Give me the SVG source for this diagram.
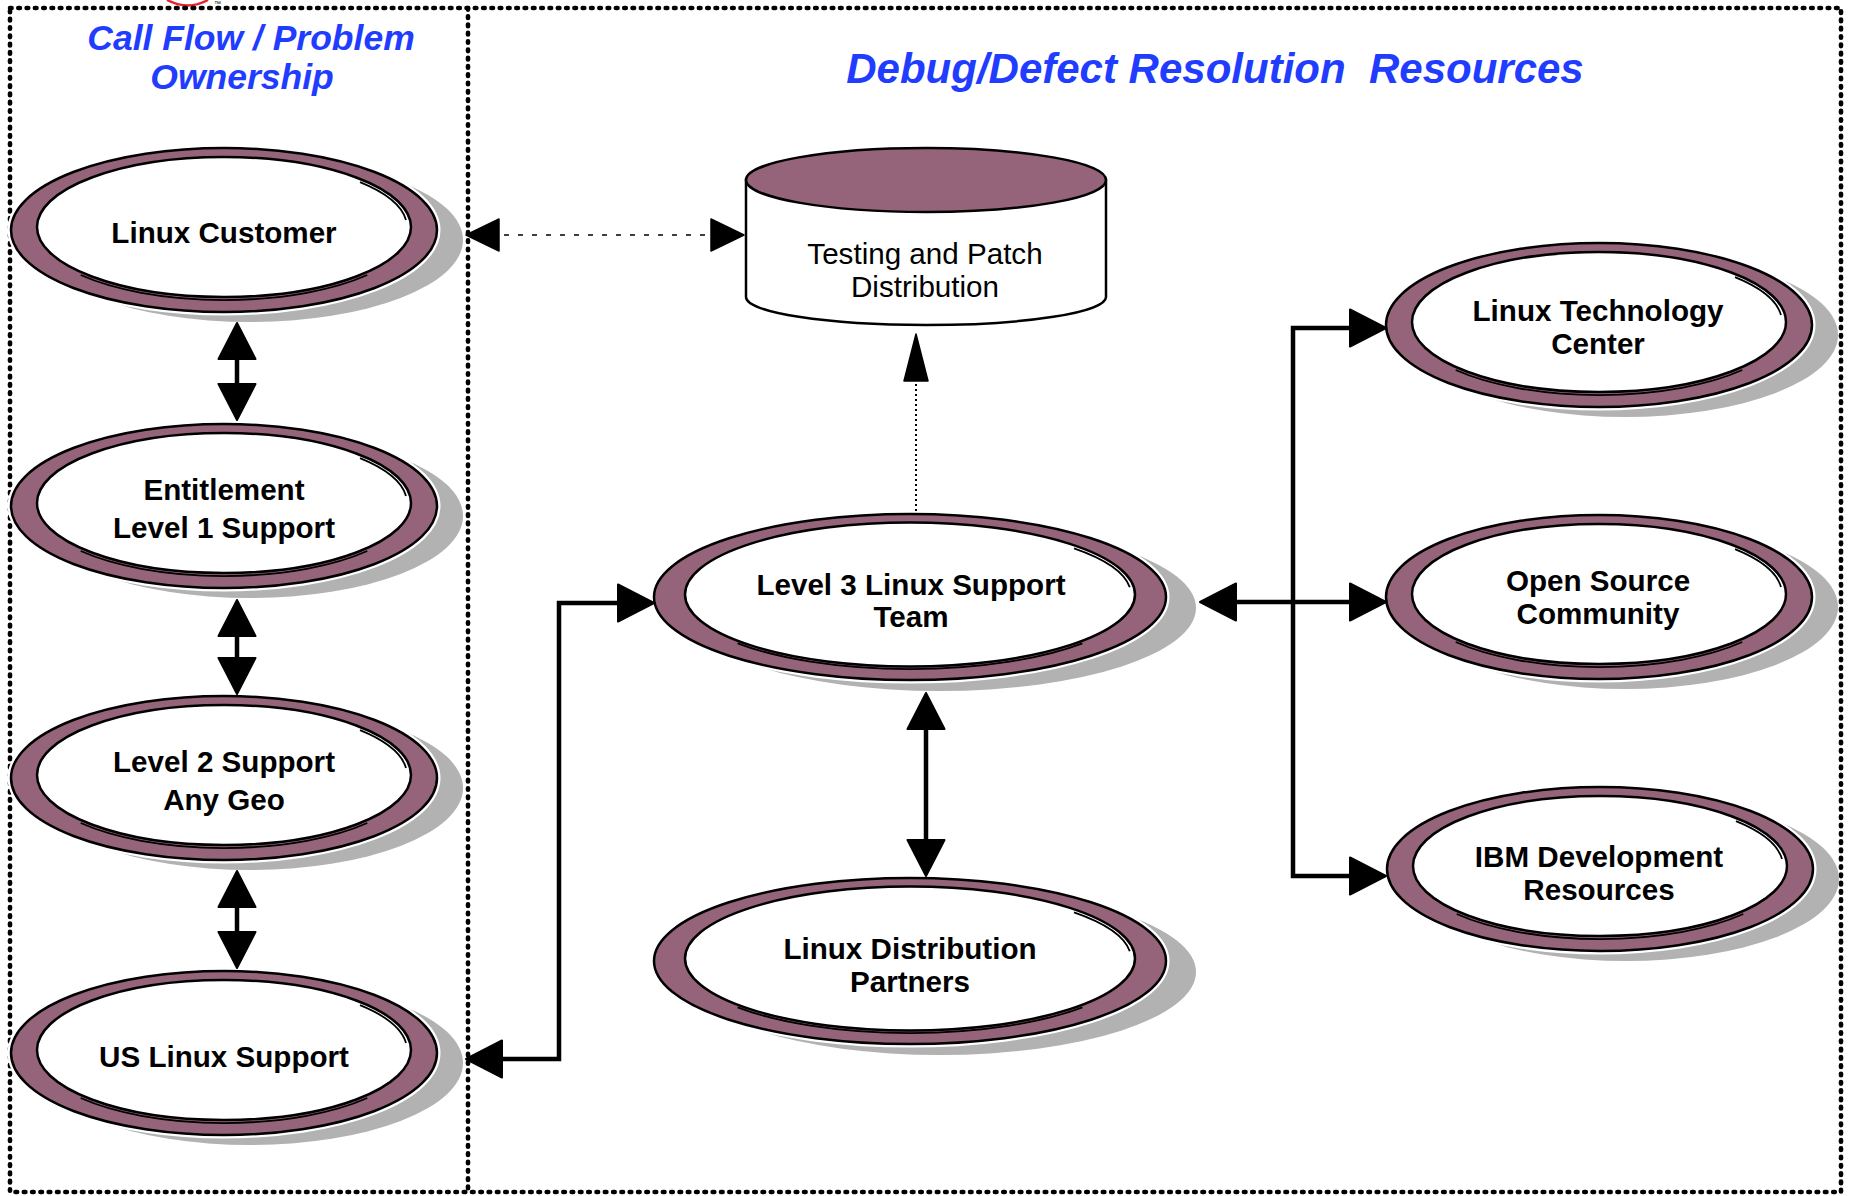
<svg xmlns="http://www.w3.org/2000/svg" width="1849" height="1196" viewBox="0 0 1849 1196">
  <style>
    .frame{fill:none;stroke:#000;stroke-width:4.6;stroke-dasharray:1.6 6.7;stroke-linecap:round}
    .title{font-family:"Liberation Sans",Arial,sans-serif;font-weight:bold;font-style:italic;fill:#1f3cff;text-anchor:middle;white-space:pre}
    .label{font-family:"Liberation Sans",Arial,sans-serif;font-weight:bold;font-size:29.6px;fill:#000;text-anchor:middle}
    .plain{font-family:"Liberation Sans",Arial,sans-serif;font-size:29.6px;fill:#000;text-anchor:middle}
    .shadow{fill:#b2b2b2}
    .halo{fill:none;stroke:#fff;stroke-width:7}
    .ring{fill:#96647a;stroke:#000;stroke-width:2.5}
    .face{fill:#fff;stroke:#000;stroke-width:2.5}
    .drum{fill:#fff;stroke:#000;stroke-width:2.5}
    .sketch{fill:none;stroke:#000;stroke-width:1.8}
    .link{fill:none;stroke:#000;stroke-width:4.5;stroke-linejoin:miter;marker-start:url(#head);marker-end:url(#head)}
    .dash{fill:none;stroke:#000;stroke-width:1.6;stroke-dasharray:5 9;marker-start:url(#dhead);marker-end:url(#dhead)}
    .dots{fill:none;stroke:#000;stroke-width:2;stroke-dasharray:2 3;marker-end:url(#vhead)}
  </style>
  <defs>
    <marker id="head" markerUnits="userSpaceOnUse" markerWidth="40" markerHeight="40" viewBox="0 0 40 40" refX="27" refY="18.5" orient="auto-start-reverse" overflow="visible">
      <path d="M0,0 L36,18.5 L0,37 Z" fill="#000" stroke="#000" stroke-width="2" stroke-linejoin="round"/>
    </marker>
    <marker id="dhead" markerUnits="userSpaceOnUse" markerWidth="36" markerHeight="34" viewBox="0 0 36 34" refX="23" refY="16" orient="auto-start-reverse" overflow="visible">
      <path d="M0,0 L33,16 L0,32 Z" fill="#000" stroke="#000" stroke-width="1.5" stroke-linejoin="round"/>
    </marker>
    <marker id="vhead" markerUnits="userSpaceOnUse" markerWidth="50" markerHeight="26" viewBox="0 0 50 26" refX="37" refY="12" orient="auto" overflow="visible">
      <path d="M0,0 L47,12 L0,24 Z" fill="#000" stroke="#000" stroke-width="1.5" stroke-linejoin="round"/>
    </marker>

    <!-- double oval used by the support nodes -->
    <g id="oval-s">
      <ellipse class="shadow" cx="26" cy="10" rx="213" ry="82"/>
      <ellipse class="halo" rx="213" ry="82"/>
      <ellipse class="ring" rx="213" ry="82"/>
      <ellipse class="face" cy="-3" rx="187" ry="70"/>
      <path class="sketch" d="M136,-47.8 A183,67 0 0 1 182,-10"/>
      <path class="sketch" d="M-143.3,45 A187,70 0 0 0 143.3,45"/>
    </g>
    <g id="oval-l">
      <ellipse class="shadow" cx="30" cy="11" rx="256" ry="83"/>
      <ellipse class="halo" rx="256" ry="83"/>
      <ellipse class="ring" rx="256" ry="83"/>
      <ellipse class="face" cy="-2.5" rx="225" ry="72"/>
      <path class="sketch" d="M164,-48.7 A221,69 0 0 1 219.8,-9.7"/>
      <path class="sketch" d="M-172.4,46.3 A225,72 0 0 0 172.4,46.3"/>
    </g>
  </defs>

  <rect width="1849" height="1196" fill="#fff"/>

  <!-- logo remnant above the frame -->
  <path d="M167,0 Q188,11 208,0" fill="none" stroke="#e3262e" stroke-width="2.5"/>
  <text x="214" y="6" font-family="Liberation Sans, Arial, sans-serif" font-size="7" fill="#000">™</text>

  <!-- frame and column divider -->
  <g id="frame">
    <rect class="frame" x="10" y="8" width="1831" height="1184"/>
    <line class="frame" x1="468" y1="8" x2="468" y2="1192"/>
  </g>

  <!-- column headings -->
  <g id="heading-left">
    <text class="title" x="251" y="50" font-size="35.5">Call Flow / Problem</text>
    <text class="title" x="242" y="89" font-size="35.5">Ownership</text>
  </g>
  <g id="heading-right">
    <text class="title" x="1215" y="83" font-size="42">Debug/Defect Resolution  Resources</text>
  </g>

  <!-- call flow column -->
  <g id="linux-customer">
    <use href="#oval-s" x="224" y="230"/>
    <text class="label" x="224" y="243">Linux Customer</text>
  </g>
  <g id="entitlement-l1">
    <use href="#oval-s" x="224" y="506"/>
    <text class="label" x="224" y="500">Entitlement</text>
    <text class="label" x="224" y="538">Level 1 Support</text>
  </g>
  <g id="level2-support">
    <use href="#oval-s" x="224" y="778"/>
    <text class="label" x="224" y="772">Level 2 Support</text>
    <text class="label" x="224" y="810">Any Geo</text>
  </g>
  <g id="us-linux-support">
    <use href="#oval-s" x="224" y="1053"/>
    <text class="label" x="224" y="1067">US Linux Support</text>
  </g>

  <!-- resolution resources -->
  <g id="testing-patch">
    <path class="drum" d="M746,180 V297 A180,28 0 0 0 1106,297 V180 Z"/>
    <ellipse class="ring" cx="926" cy="180" rx="180" ry="32"/>
    <text class="plain" x="925" y="264">Testing and Patch</text>
    <text class="plain" x="925" y="297">Distribution</text>
  </g>
  <g id="level3-team">
    <use href="#oval-l" x="910" y="597"/>
    <text class="label" x="911" y="595">Level 3 Linux Support</text>
    <text class="label" x="911" y="627">Team</text>
  </g>
  <g id="distribution-partners">
    <use href="#oval-l" x="910" y="961"/>
    <text class="label" x="910" y="959">Linux Distribution</text>
    <text class="label" x="910" y="992">Partners</text>
  </g>
  <g id="linux-tech-center">
    <use href="#oval-s" x="1599" y="325"/>
    <text class="label" x="1598" y="321">Linux Technology</text>
    <text class="label" x="1598" y="354">Center</text>
  </g>
  <g id="open-source">
    <use href="#oval-s" x="1599" y="597"/>
    <text class="label" x="1598" y="591">Open Source</text>
    <text class="label" x="1598" y="624">Community</text>
  </g>
  <g id="ibm-dev">
    <use href="#oval-s" x="1600" y="869"/>
    <text class="label" x="1599" y="867">IBM Development</text>
    <text class="label" x="1599" y="900">Resources</text>
  </g>

  <!-- connectors -->
  <g id="connectors">
    <path class="link" d="M237,332 V411"/>
    <path class="link" d="M237,609 V685"/>
    <path class="link" d="M237,880 V959"/>
    <path class="link" d="M475,1059 H559 V603 H645"/>
    <path class="link" d="M926,702 V867"/>
    <path class="link" d="M1209,602 H1377"/>
    <path class="link" d="M1377,328 H1293 V876 H1377"/>
    <path class="dash" d="M476,235 H734"/>
    <path class="dots" d="M916,511 V344"/>
  </g>
</svg>
